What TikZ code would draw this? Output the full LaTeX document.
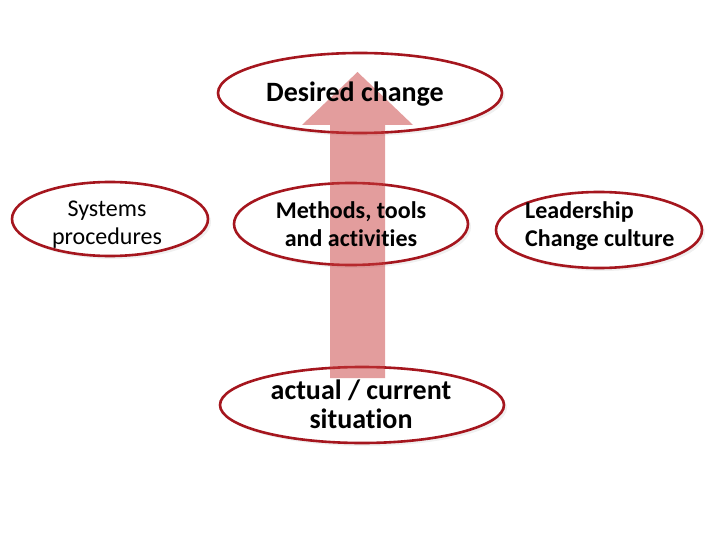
\documentclass[tikz,border=0pt]{standalone}
\usepackage{fontspec}
\setmainfont{Carlito}[Ligatures=NoCommon]
\usetikzlibrary{shapes.geometric,shadows,calc}
\definecolor{ovalred}{RGB}{165,22,30}
\definecolor{arrowred}{RGB}{200,60,60}
\tikzset{
  oval/.style={ellipse, draw=ovalred, line width=2.6pt, fill=white, inner sep=0pt,
    drop shadow={opacity=0.12, shadow xshift=3pt, shadow yshift=-3pt}},
  bigtxt/.style={font=\fontsize{28}{29}\selectfont\bfseries, align=center, inner sep=0pt},
  midtxt/.style={font=\fontsize{24}{28}\selectfont\bfseries, align=center, inner sep=0pt},
  thintxt/.style={font=\fontsize{24}{28}\selectfont, align=center, inner sep=0pt},
  uparrow/.style={fill=arrowred, fill opacity=0.5}
}
\begin{document}
\begin{tikzpicture}[x=1pt,y=-1pt]
    \useasboundingbox (0,0) rectangle (720,540);

    % Ellipses
    \node[oval, minimum width=284pt, minimum height=80pt] (desired) at (360,93) {};
    \node[oval, minimum width=196pt, minimum height=74pt] (systems) at (110,219) {};
    \node[oval, minimum width=234pt, minimum height=82pt] (methods) at (351,224) {};
    \node[oval, minimum width=206pt, minimum height=76pt] (leader) at (599,230) {};
    \node[oval, minimum width=284pt, minimum height=76pt] (actual) at (362,405) {};

    % Big arrow from current to desired
    \coordinate (tail) at (357.5,378);
    \coordinate (tip) at (357.5,72);
    \fill[uparrow] ($(tail)+(-27.5,0)$) -- ($(tail)+(-27.5,-253)$) -- ($(tail)+(-55.5,-253)$)
      -- (tip) -- ($(tail)+(55.5,-253)$) -- ($(tail)+(27.5,-253)$) -- ($(tail)+(27.5,0)$) -- cycle;

    % Labels
    \node[bigtxt] (desired-t) at (355,94) {Desired change};
    \node[thintxt] (systems-t) at (107,225) {Systems\\procedures};
    \node[midtxt] (methods-t) at (351,224) {Methods, tools\\and activities};
    \node[midtxt, align=left, anchor=west] (leader-t) at (525,226.5) {Leadership\\Change culture};
    \node[bigtxt] (actual-t) at (361,404) {actual / current\\situation};
\end{tikzpicture}
\end{document}
